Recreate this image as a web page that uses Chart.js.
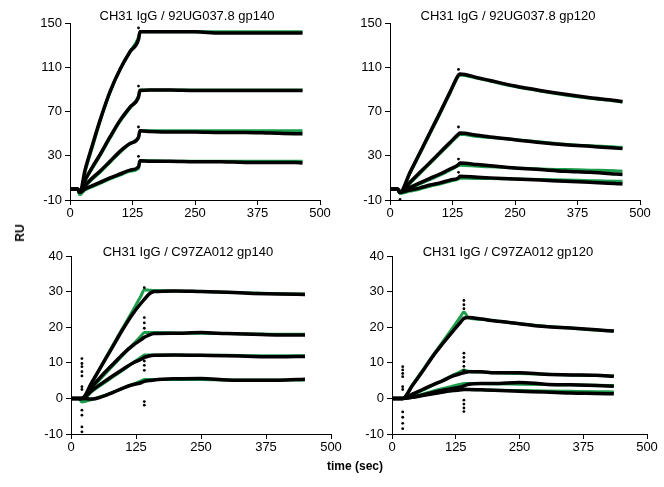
<!DOCTYPE html>
<html lang="en">
<head>
  <meta charset="UTF-8" />
  <title>CH31 IgG binding</title>
  <style>
    body {
      margin: 0;
      background: #fff;
      font-family: "Liberation Sans", Arial, sans-serif;
      color: #000;
    }
    #wrap {
      position: relative;
      width: 664px;
      height: 487px;
      overflow: hidden;
    }
    canvas {
      position: absolute;
    }
    .title {
      position: absolute;
      font-size: 13px;
      line-height: 15px;
      white-space: nowrap;
      transform: translateX(-50%);
    }
    .axlabel {
      position: absolute;
      font-size: 12px;
      font-weight: bold;
      white-space: nowrap;
    }
  </style>
</head>
<body>
  <div id="wrap">
    <canvas id="cA"></canvas>
    <canvas id="cB"></canvas>
    <canvas id="cC"></canvas>
    <canvas id="cD"></canvas>
    <div class="title" style="left:187px; top:8px;">CH31 IgG / 92UG037.8 gp140</div>
    <div class="title" style="left:508px; top:8px;">CH31 IgG / 92UG037.8 gp120</div>
    <div class="title" style="left:188px; top:244px;">CH31 IgG / C97ZA012 gp140</div>
    <div class="title" style="left:508px; top:244px;">CH31 IgG / C97ZA012 gp120</div>
    <div class="axlabel" style="left:20px; top:233px; transform: translate(-50%,-50%) rotate(-90deg);">RU</div>
    <div class="axlabel" style="left:355px; top:466px; transform: translate(-50%,-50%);">time (sec)</div>
  </div>

  <script src="https://cdn.jsdelivr.net/npm/chart.js"></script>
  <script>
    // --- panel A: 92UG037.8 gp140 ---
    const timeA = [0, 15, 20, 30, 45, 60, 80, 100, 120, 137, 140, 160, 200, 250, 300, 350, 400, 450, 465];
    const dataA1 = [0, 0, -3, 17, 40, 62, 88, 108, 124, 135, 142, 142, 142, 142, 141, 141, 141, 141, 141];
    const dataA2 = [0, 0, -3, 8, 20, 31, 47, 62, 74, 83, 89, 89.5, 89.5, 89, 89, 89, 89, 89, 89];
    const dataA3 = [0, 0, -3, 3, 10, 16, 25, 34, 41, 46.5, 52.5, 52, 51.5, 51.5, 51, 51, 50.5, 50, 50];
    const dataA4 = [0, 0, -3, 0, 3, 6, 10, 13.5, 17, 20, 25.5, 25, 25, 24.5, 24.5, 24, 24, 24, 23.5];
    const fitA1 = [0, 0, -5, 15, 38, 61, 87, 108, 124, 137, 142, 142, 142, 142, 142, 142, 142, 142, 142];
    const fitA2 = [0, 0, -5, 7, 19, 30, 46, 61, 73, 84, 89.5, 89.5, 89.5, 89.5, 89.5, 89.5, 89.5, 89.5, 89.5];
    const fitA3 = [0, 0, -5, 2, 9, 15, 24, 33, 41, 47, 52.5, 52.5, 52.5, 52.5, 52.5, 52.5, 52.5, 52.5, 52.5];
    const fitA4 = [0, 0, -5, -1, 2, 5, 9, 12.5, 16, 18.5, 25.5, 25.5, 25, 25, 25, 25, 25, 25, 25];
    const spikeA = [[137, 145.5], [137, 93], [137, 56], [137, 29.5]];

    // --- panel B: 92UG037.8 gp120 ---
    const timeB = [0, 15, 20, 40, 60, 80, 100, 120, 137, 140, 175, 200, 250, 300, 350, 400, 450, 465];
    const dataB1 = [0, 0, -3, 15, 33, 51, 69, 87.5, 103, 104, 100.5, 98, 93, 89, 85.5, 82.5, 80, 79];
    const dataB2 = [0, 0, -3, 6, 15, 24, 33, 42, 49.5, 50.5, 48.5, 47, 44.5, 42, 40, 38.5, 37, 36.5];
    const dataB3 = [0, 0, -3, 1.5, 5.5, 9.5, 13.5, 18, 22, 23.5, 22, 21, 19, 17.5, 16, 15, 13.5, 13];
    const dataB4 = [0, 0, -3, -1, 1, 3.5, 5.5, 8, 10, 11.5, 10.5, 10, 9, 8, 7, 6, 5, 4.5];
    const fitB1 = [0, 0, -4, 14, 32, 50, 68, 86.5, 102, 103, 100, 97.5, 92.5, 88.5, 85, 82, 79.5, 78.5];
    const fitB2 = [0, 0, -4, 5, 14, 23, 32, 41, 48.5, 49.5, 47.5, 46.5, 44.5, 42.5, 40.5, 39, 38, 37.5];
    const fitB3 = [0, 0, -4, 0.5, 4.5, 8.5, 12.5, 17, 21, 21.5, 20.5, 20, 19, 18, 17.5, 17, 16.5, 16];
    const fitB4 = [0, 0, -4, -2, 0, 2.5, 4.5, 7, 9, 10, 9.5, 9.5, 9, 8.5, 8, 7.5, 7, 7];
    const spikeB = [[20, -9.4], [137, 108], [137, 56], [137, 27], [137, 15]];

    // --- panel C: C97ZA012 gp140 ---
    const timeC = [0, 15, 21, 40, 60, 80, 100, 120, 135, 141, 150, 160, 200, 250, 300, 350, 400, 450];
    const dataC1 = [0, 0, 0, 4.5, 9.5, 14.5, 19.5, 24, 26.8, 27.8, 29.3, 30, 30.2, 30, 29.8, 29.5, 29.3, 29.2];
    const dataC2 = [0, 0, 0, 3.2, 6.5, 9.5, 12.5, 15, 16.5, 17.2, 17.8, 18.2, 18.3, 18.5, 18.2, 18, 17.8, 17.8];
    const dataC3 = [0, 0, 0, 2.2, 4.3, 6.3, 8.2, 10, 11, 11.5, 11.9, 12.1, 12.2, 12.1, 12, 11.8, 11.7, 11.8];
    const dataC4 = [0, 0, 0, -0.2, 0.5, 1.6, 2.9, 3.9, 4.4, 4.8, 5, 5.2, 5.5, 5.6, 5.2, 5.1, 5.1, 5.4];
    const fitC1 = [0, 0, -0.5, 4.4, 9.6, 14.8, 19.9, 25, 28.9, 30.5, 30.4, 30.3, 30.2, 30, 29.8, 29.6, 29.4, 29.3];
    const fitC2 = [0, 0, -0.5, 2.9, 6, 9.1, 12.2, 15.3, 17.6, 18.5, 18.5, 18.5, 18.4, 18.3, 18.2, 18.1, 18, 18];
    const fitC3 = [0, 0, -0.5, 1.9, 4, 6, 8, 10.1, 11.6, 12.2, 12.2, 12.2, 12.2, 12.1, 12.1, 12, 12, 12];
    const fitC4 = [0, 0, -1, -0.3, 0.6, 1.7, 2.9, 4, 4.9, 5.3, 5.3, 5.3, 5.3, 5.3, 5.2, 5.2, 5.2, 5.2];
    const spikeC = [
      [21, 11.2], [21, 9.8], [21, 8.9], [21, 7.5], [21, 6.3], [21, 3.3], [21, 2.5],
      [21, -3.3], [21, -4.7], [21, -8], [21, -9.4],
      [141, 31.1], [141, 22.7], [141, 21.2], [141, 19.7], [141, 10.5], [141, 9.3], [141, 7.9],
      [141, -0.9], [141, -1.9]
    ];

    // --- panel D: C97ZA012 gp120 ---
    const timeD = [0, 15, 21, 40, 60, 80, 100, 120, 135, 141, 150, 175, 200, 250, 300, 350, 400, 435];
    const dataD1 = [0, 0, 0, 3.6, 7.6, 11.8, 15.5, 19, 21.5, 22.5, 22.7, 22.3, 21.8, 21, 20.2, 19.8, 19.3, 18.9];
    const dataD2 = [0, 0, 0, 1.2, 2.5, 3.8, 5, 6.3, 7, 7.2, 7.5, 7.5, 7.2, 7.2, 6.8, 6.6, 6.5, 6.2];
    const dataD3 = [0, 0, 0, 0.4, 1, 1.7, 2.3, 2.8, 3.2, 3.5, 4, 4.2, 4.2, 4.5, 4, 3.8, 3.6, 3.4];
    const dataD4 = [0, 0, 0, 0.3, 0.8, 1.3, 1.8, 2.2, 2.4, 2.5, 2.5, 2.4, 2.3, 2, 1.8, 1.5, 1.4, 1.3];
    const fitD1 = [0, 0, 0, 3.8, 7.9, 12, 16, 20, 23.1, 24.3, 22.6, 22.2, 21.8, 21, 20.3, 19.8, 19.2, 18.9];
    const fitD2 = [0, 0, 0, 1, 2.3, 3.7, 5.1, 6.6, 7.6, 8, 7.6, 7.4, 7.2, 7, 6.8, 6.6, 6.4, 6.3];
    const fitD3 = [0, 0, 0, 0.5, 1.2, 2, 2.8, 3.5, 4, 4.2, 4.2, 4.2, 4.1, 4, 3.9, 3.8, 3.7, 3.6];
    const fitD4 = [0, 0, 0, 0.4, 0.9, 1.4, 1.8, 2.2, 2.5, 2.6, 2.5, 2.4, 2.3, 2.2, 2.1, 2, 1.9, 1.8];
    const spikeD = [
      [21, 8.9], [21, 8], [21, 7], [21, 6.1], [21, 3.3], [21, 2.5],
      [21, -3.8], [21, -5.3], [21, -7], [21, -8.5],
      [141, 27.5], [141, 26.3], [141, 25.2], [141, 12.7], [141, 11.5], [141, 10.3], [141, 9], [141, 7.9],
      [141, -0.5], [141, -1.6], [141, -2.7], [141, -3.7]
    ];

    const green = '#1e9e4c';
    const FONT = { family: '"Liberation Sans", Arial, sans-serif', size: 13 };

    function pts(t, v) {
      return t.map((x, i) => ({ x: x, y: v[i] }));
    }

    function makePanel(id, box, yMin, yMax, yStep, time, dataSets, fitSets, spikes) {
      const padL = 56, padT = 25, padR = 22, padB = 30;
      const cv = document.getElementById(id);
      const w = box.right - box.left + padL + padR;
      const h = box.bottom - box.top + padT + padB;
      cv.width = w;
      cv.height = h;
      cv.style.left = (box.left - padL) + 'px';
      cv.style.top = (box.top - padT) + 'px';

      const datasets = [];
      dataSets.forEach(v => datasets.push({
        data: pts(time, v), showLine: true, borderColor: '#000', borderWidth: 3.5,
        pointRadius: 0, order: 0, cubicInterpolationMode: 'monotone'
      }));
      fitSets.forEach(v => datasets.push({
        data: pts(time, v), showLine: true, borderColor: green, borderWidth: 3,
        pointRadius: 0, order: 1, cubicInterpolationMode: 'monotone'
      }));
      datasets.push({
        data: spikes.map(p => ({ x: p[0], y: p[1] })), showLine: false,
        pointRadius: 1.4, backgroundColor: '#000', borderWidth: 0, order: 0
      });

      new Chart(cv.getContext('2d'), {
        type: 'scatter',
        data: { datasets: datasets },
        options: {
          responsive: false,
          animation: false,
          layout: { padding: { left: 0, top: padT, right: padR, bottom: 0 } },
          plugins: { legend: { display: false }, tooltip: { enabled: false } },
          scales: {
            x: {
              type: 'linear', min: 0, max: 500,
              afterFit: s => { s.height = padB; },
              ticks: { stepSize: 125, color: '#000', font: FONT, padding: 1, maxRotation: 0 },
              grid: { drawOnChartArea: false, drawTicks: true, tickLength: 5, color: '#000' },
              border: { color: '#000', width: 1 }
            },
            y: {
              min: yMin, max: yMax,
              afterFit: s => { s.width = padL; },
              ticks: { stepSize: yStep, color: '#000', font: FONT, padding: 3 },
              grid: { drawOnChartArea: false, drawTicks: true, tickLength: 5, color: '#000' },
              border: { color: '#000', width: 1 }
            }
          }
        }
      });
    }

    makePanel('cA', { left: 70, right: 320, top: 23, bottom: 200 }, -10, 150, 40, timeA,
      [dataA1, dataA2, dataA3, dataA4], [fitA1, fitA2, fitA3, fitA4], spikeA);
    makePanel('cB', { left: 390, right: 640, top: 23, bottom: 200 }, -10, 150, 40, timeB,
      [dataB1, dataB2, dataB3, dataB4], [fitB1, fitB2, fitB3, fitB4], spikeB);
    makePanel('cC', { left: 71, right: 331, top: 256, bottom: 434 }, -10, 40, 10, timeC,
      [dataC1, dataC2, dataC3, dataC4], [fitC1, fitC2, fitC3, fitC4], spikeC);
    makePanel('cD', { left: 392, right: 647, top: 256, bottom: 434 }, -10, 40, 10, timeD,
      [dataD1, dataD2, dataD3, dataD4], [fitD1, fitD2, fitD3, fitD4], spikeD);
  </script>
</body>
</html>
